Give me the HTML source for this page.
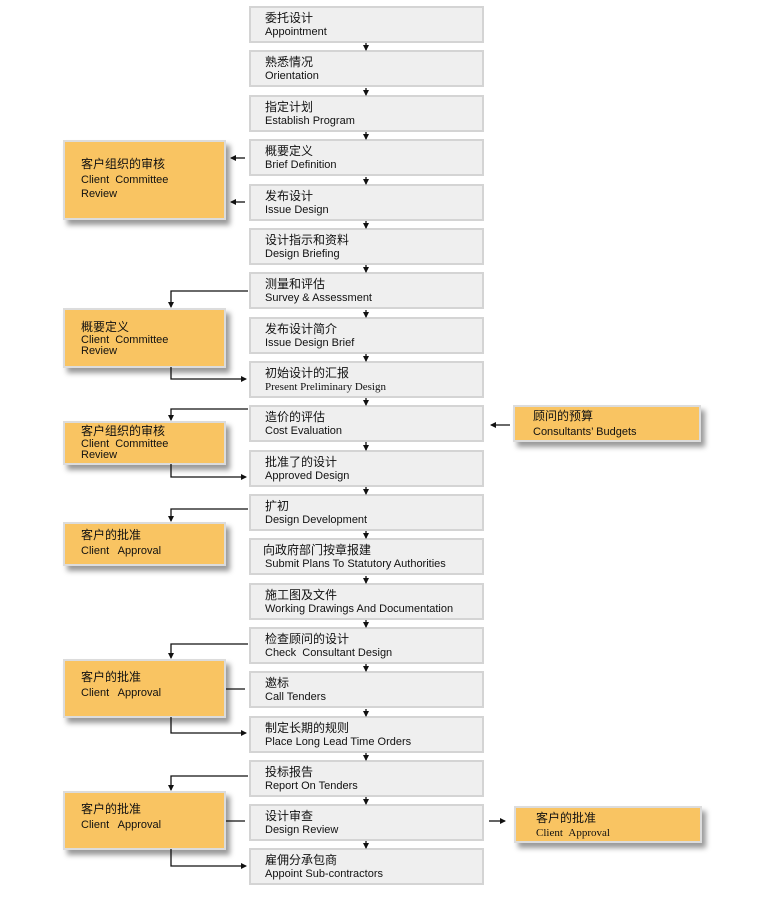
<!DOCTYPE html>
<html><head><meta charset="utf-8">
<style>
body{margin:0;width:770px;height:900px;background:#fff;position:relative;overflow:hidden;font-family:"Liberation Sans","Noto Sans CJK SC",sans-serif;color:#111}
.m{position:absolute;left:249px;width:231px;height:33px;background:#efefef;border:2px solid #d4d4d4}
.m .c,.o .c{position:absolute;font-size:12px;line-height:13px;white-space:nowrap}
.m .e,.o .e{position:absolute;font-size:11px;line-height:12px;white-space:nowrap}
.m .c{left:14px;top:4px}.m .e{left:14px;top:18px}
.o{position:absolute;background:#f9c462;border:2px solid #dcdcdc;box-shadow:4px 5px 5px rgba(0,0,0,.4)}
.o .c{left:16px}.o .e{left:16px}
svg{position:absolute;left:0;top:0}
</style></head><body>
<div class="m" style="top:6px"><div class="c">委托设计</div><div class="e">Appointment</div></div>
<div class="m" style="top:50px"><div class="c">熟悉情况</div><div class="e">Orientation</div></div>
<div class="m" style="top:95px"><div class="c">指定计划</div><div class="e">Establish Program</div></div>
<div class="m" style="top:139px"><div class="c">概要定义</div><div class="e">Brief Definition</div></div>
<div class="m" style="top:184px"><div class="c">发布设计</div><div class="e">Issue Design</div></div>
<div class="m" style="top:228px"><div class="c">设计指示和资料</div><div class="e">Design Briefing</div></div>
<div class="m" style="top:272px"><div class="c">测量和评估</div><div class="e">Survey &amp; Assessment</div></div>
<div class="m" style="top:317px"><div class="c">发布设计简介</div><div class="e">Issue Design Brief</div></div>
<div class="m" style="top:361px"><div class="c">初始设计的汇报</div><div class="e" style="font-family:'Liberation Serif',serif">Present Preliminary Design</div></div>
<div class="m" style="top:405px"><div class="c">造价的评估</div><div class="e">Cost Evaluation</div></div>
<div class="m" style="top:450px"><div class="c">批准了的设计</div><div class="e">Approved Design</div></div>
<div class="m" style="top:494px"><div class="c">扩初</div><div class="e">Design Development</div></div>
<div class="m" style="top:538px"><div class="c" style="left:12px">向政府部门按章报建</div><div class="e">Submit Plans To Statutory Authorities</div></div>
<div class="m" style="top:583px"><div class="c">施工图及文件</div><div class="e">Working Drawings And Documentation</div></div>
<div class="m" style="top:627px"><div class="c">检查顾问的设计</div><div class="e">Check &nbsp;Consultant Design</div></div>
<div class="m" style="top:671px"><div class="c">邀标</div><div class="e">Call Tenders</div></div>
<div class="m" style="top:716px"><div class="c">制定长期的规则</div><div class="e">Place Long Lead Time Orders</div></div>
<div class="m" style="top:760px"><div class="c">投标报告</div><div class="e">Report On Tenders</div></div>
<div class="m" style="top:804px"><div class="c">设计审查</div><div class="e">Design Review</div></div>
<div class="m" style="top:848px"><div class="c">雇佣分承包商</div><div class="e">Appoint Sub-contractors</div></div>

<div class="o" style="left:63px;top:140px;width:159px;height:76px"><div class="c" style="top:16px">客户组织的审核</div><div class="e" style="top:32px">Client &nbsp;Committee</div><div class="e" style="top:46px">Review</div></div>
<div class="o" style="left:63px;top:308px;width:159px;height:56px"><div class="c" style="top:11px">概要定义</div><div class="e" style="top:24px">Client &nbsp;Committee</div><div class="e" style="top:35px">Review</div></div>
<div class="o" style="left:63px;top:421px;width:159px;height:40px"><div class="c" style="top:2px">客户组织的审核</div><div class="e" style="top:15px">Client &nbsp;Committee</div><div class="e" style="top:26px">Review</div></div>
<div class="o" style="left:63px;top:522px;width:159px;height:40px"><div class="c" style="top:5px">客户的批准</div><div class="e" style="top:21px">Client &nbsp; Approval</div></div>
<div class="o" style="left:63px;top:659px;width:159px;height:55px"><div class="c" style="top:10px">客户的批准</div><div class="e" style="top:26px">Client &nbsp; Approval</div></div>
<div class="o" style="left:63px;top:791px;width:159px;height:55px"><div class="c" style="top:10px">客户的批准</div><div class="e" style="top:26px">Client &nbsp; Approval</div></div>
<div class="o" style="left:513px;top:405px;width:184px;height:33px"><div class="c" style="left:18px;top:3px">顾问的预算</div><div class="e" style="left:18px;top:19px">Consultants’ Budgets</div></div>
<div class="o" style="left:514px;top:806px;width:184px;height:33px"><div class="c" style="left:20px;top:4px">客户的批准</div><div class="e" style="left:20px;top:19px;font-family:'Liberation Serif',serif">Client &nbsp;Approval</div></div>

<svg width="770" height="900">
<defs><marker id="a" markerWidth="6" markerHeight="6" refX="5" refY="3" orient="auto" markerUnits="userSpaceOnUse"><path d="M0,0L6,3L0,6z" fill="#111"/></marker></defs>
<g stroke="#111" stroke-width="1.3" fill="none" marker-end="url(#a)">
<path d="M366 43V50"/><path d="M366 88V95"/><path d="M366 132V139"/><path d="M366 177V184"/><path d="M366 221V228"/><path d="M366 265V272"/><path d="M366 310V317"/><path d="M366 354V361"/><path d="M366 398V405"/><path d="M366 442V450"/><path d="M366 487V494"/><path d="M366 531V538"/><path d="M366 576V583"/><path d="M366 620V627"/><path d="M366 664V671"/><path d="M366 709V716"/><path d="M366 753V760"/><path d="M366 797V804"/><path d="M366 841V848"/>
<path d="M245 158H231"/><path d="M245 202H231"/>
<path d="M248 291H171V307"/>
<path d="M171 367V379H246"/>
<path d="M248 409H171V420"/>
<path d="M171 464V477H246"/>
<path d="M248 509H171V521"/>
<path d="M248 644H171V658"/>
<path d="M171 717V733H246"/>
<path d="M248 776H171V790"/>
<path d="M171 849V866H246"/>
<path d="M510 425H491"/>
<path d="M489 821H505"/>
</g>
<g stroke="#111" stroke-width="1.3" fill="none">
<path d="M226 689H245"/>
<path d="M226 821H245"/>
</g></svg>
</body></html>
